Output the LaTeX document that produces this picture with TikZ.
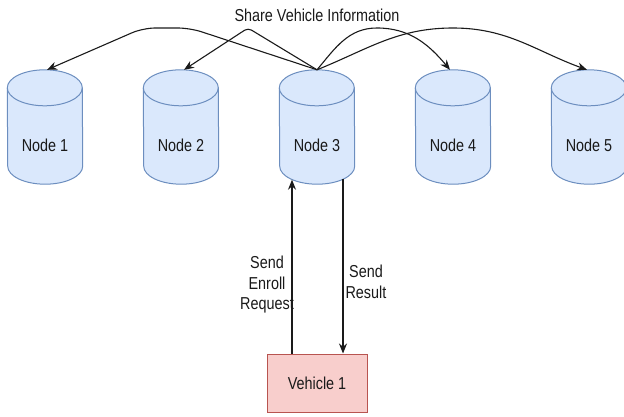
\documentclass[tikz,border=0pt]{standalone}
\usepackage{fontspec}
\setmainfont{Liberation Sans}
\usetikzlibrary{arrows.meta,calc}
\pgfdeclarelayer{bg}
\pgfsetlayers{bg,main}
\definecolor{cylfill}{HTML}{DAE8FC}
\definecolor{cylline}{HTML}{6C8EBF}
\definecolor{vehfill}{HTML}{F8CECC}
\definecolor{vehline}{HTML}{B85450}
\definecolor{ink}{HTML}{1A1A1A}
\newcommand{\tall}[1]{\scalebox{1}[1.2]{#1}}
\newcommand{\tallstack}[1]{\scalebox{1}[1.2]{\begin{tabular}{@{}c@{}}#1\end{tabular}}}
\tikzset{
  txt/.style={font=\fontsize{14.4}{16.7}\selectfont, text=ink, inner sep=0pt},
  dbnode/.style={draw=none, minimum width=75pt, minimum height=114pt, inner sep=0pt},
  vehbox/.style={draw=vehline, fill=vehfill, line width=1pt, minimum width=100pt, minimum height=58pt, inner sep=0pt, txt},
  conn/.style={line width=1.1pt, draw=ink, -{Stealth[length=10pt,width=8pt]}},
  cylshape/.style={draw=cylline, fill=cylfill, line width=1pt},
}
\begin{document}
\begin{tikzpicture}[x=1pt,y=1pt]
\useasboundingbox (0,0) rectangle (624,416);
\foreach \i/\x in {1/45,2/181,3/317,4/453,5/589}{
  \node[dbnode] (n\i) at (\x,289) {};
  \node[txt] (t\i) at ($(n\i.center)+(0,-18)$) {\tall{Node \i}};
}
\begin{pgfonlayer}{bg}
\foreach \i in {1,...,5}{
  \path[cylshape] ($(n\i.north west)+(0,-18)$) arc[start angle=180,end angle=0,x radius=37.5,y radius=18]
     -- ($(n\i.south east)+(0,18)$) arc[start angle=0,end angle=-180,x radius=37.5,y radius=18] -- cycle;
  \draw[cylline, line width=1pt] ($(n\i.north west)+(0,-18)$) arc[start angle=180,end angle=360,x radius=37.5,y radius=18];
}
\end{pgfonlayer}
\node[vehbox] (veh) at (317,33) {\tall{Vehicle 1}};
\node[txt] (title) at (317,401) {\tall{Share Vehicle Information}};
\node[txt] (lreq) at (267,131) {\tallstack{Send\\Enroll\\Request}};
\node[txt] (lres) at (366,132) {\tallstack{Send\\Result}};
\draw[conn, rounded corners=12pt] (n3.north) -- (190,388) -- (143,388) -- ([xshift=2pt]n1.north);
\draw[conn, rounded corners=4pt] (n3.north) -- (248,388) -- ([xshift=3pt]n2.north);
\draw[conn] (n3.north) to[out=50,in=180] (377,388) to[out=0,in=130] ([xshift=-3pt]n4.north);
\draw[conn] (n3.north) to[out=22,in=180] (453,388) to[out=0,in=160] ([xshift=-2pt]n5.north);
\draw[conn] ([xshift=-25pt]veh.north) -- ([xshift=-25pt,yshift=4.5pt]n3.south);
\draw[conn] ([xshift=26pt,yshift=5pt]n3.south) -- ([xshift=26pt]veh.north);
\end{tikzpicture}
\end{document}
